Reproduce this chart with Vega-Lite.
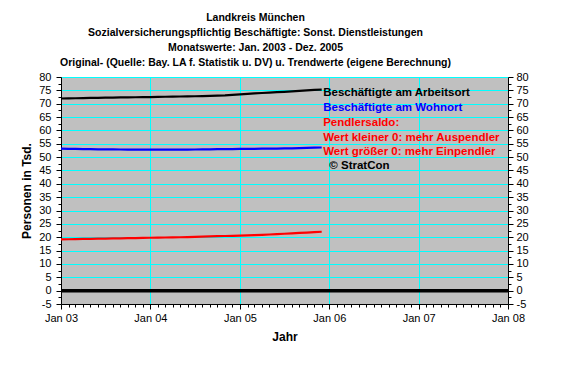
{
  "$schema": "https://vega.github.io/schema/vega-lite/v6.json",
  "width": 447,
  "height": 227,
  "autosize": {"type": "none"},
  "padding": {"left": 61, "top": 77, "right": 53, "bottom": 71},
  "background": "#FFFFFF",
  "title": {
    "text": [
      "Landkreis München",
      "Sozialversicherungspflichtig Beschäftigte: Sonst. Dienstleistungen",
      "Monatswerte: Jan. 2003 - Dez. 2005",
      "Original- (Quelle: Bay. LA f. Statistik u. DV) u. Trendwerte (eigene Berechnung)"
    ],
    "anchor": "middle",
    "frame": "group",
    "dx": -29,
    "font": "Liberation Sans",
    "fontSize": 10.5,
    "fontWeight": "bold",
    "color": "#000000",
    "lineHeight": 15.3,
    "offset": 2
  },
  "config": {
    "view": {"fill": "#C0C0C0", "stroke": null},
    "axis": {
      "labelFont": "Liberation Sans",
      "labelFontSize": 11,
      "labelColor": "#000000",
      "titleFont": "Liberation Sans",
      "titleFontSize": 12,
      "titleFontWeight": "bold",
      "titleColor": "#000000",
      "domainColor": "#000000",
      "domainWidth": 1,
      "tickColor": "#000000",
      "tickWidth": 1,
      "gridColor": "#00FFFF",
      "gridWidth": 1
    },
    "text": {"font": "Liberation Sans"}
  },
  "datasets": {
    "series": [
      {"m": "2003-01", "Arbeitsort": 71.95, "Wohnort": 53.15, "Pendlersaldo": 19.2},
      {"m": "2003-02", "Arbeitsort": 72.0, "Wohnort": 53.1, "Pendlersaldo": 19.25},
      {"m": "2003-03", "Arbeitsort": 72.05, "Wohnort": 53.05, "Pendlersaldo": 19.3},
      {"m": "2003-04", "Arbeitsort": 72.1, "Wohnort": 53.0, "Pendlersaldo": 19.35},
      {"m": "2003-05", "Arbeitsort": 72.15, "Wohnort": 52.97, "Pendlersaldo": 19.4},
      {"m": "2003-06", "Arbeitsort": 72.2, "Wohnort": 52.93, "Pendlersaldo": 19.45},
      {"m": "2003-07", "Arbeitsort": 72.25, "Wohnort": 52.9, "Pendlersaldo": 19.5},
      {"m": "2003-08", "Arbeitsort": 72.3, "Wohnort": 52.87, "Pendlersaldo": 19.55},
      {"m": "2003-09", "Arbeitsort": 72.35, "Wohnort": 52.85, "Pendlersaldo": 19.6},
      {"m": "2003-10", "Arbeitsort": 72.4, "Wohnort": 52.83, "Pendlersaldo": 19.65},
      {"m": "2003-11", "Arbeitsort": 72.42, "Wohnort": 52.82, "Pendlersaldo": 19.7},
      {"m": "2003-12", "Arbeitsort": 72.45, "Wohnort": 52.8, "Pendlersaldo": 19.75},
      {"m": "2004-01", "Arbeitsort": 72.5, "Wohnort": 52.8, "Pendlersaldo": 19.8},
      {"m": "2004-02", "Arbeitsort": 72.55, "Wohnort": 52.8, "Pendlersaldo": 19.85},
      {"m": "2004-03", "Arbeitsort": 72.6, "Wohnort": 52.8, "Pendlersaldo": 19.9},
      {"m": "2004-04", "Arbeitsort": 72.65, "Wohnort": 52.8, "Pendlersaldo": 19.95},
      {"m": "2004-05", "Arbeitsort": 72.7, "Wohnort": 52.8, "Pendlersaldo": 20.0},
      {"m": "2004-06", "Arbeitsort": 72.75, "Wohnort": 52.82, "Pendlersaldo": 20.07},
      {"m": "2004-07", "Arbeitsort": 72.8, "Wohnort": 52.85, "Pendlersaldo": 20.15},
      {"m": "2004-08", "Arbeitsort": 72.85, "Wohnort": 52.88, "Pendlersaldo": 20.22},
      {"m": "2004-09", "Arbeitsort": 72.92, "Wohnort": 52.92, "Pendlersaldo": 20.3},
      {"m": "2004-10", "Arbeitsort": 73.0, "Wohnort": 52.97, "Pendlersaldo": 20.38},
      {"m": "2004-11", "Arbeitsort": 73.1, "Wohnort": 53.0, "Pendlersaldo": 20.46},
      {"m": "2004-12", "Arbeitsort": 73.3, "Wohnort": 53.03, "Pendlersaldo": 20.54},
      {"m": "2005-01", "Arbeitsort": 73.5, "Wohnort": 53.06, "Pendlersaldo": 20.62},
      {"m": "2005-02", "Arbeitsort": 73.68, "Wohnort": 53.09, "Pendlersaldo": 20.7},
      {"m": "2005-03", "Arbeitsort": 73.85, "Wohnort": 53.12, "Pendlersaldo": 20.8},
      {"m": "2005-04", "Arbeitsort": 74.0, "Wohnort": 53.15, "Pendlersaldo": 20.9},
      {"m": "2005-05", "Arbeitsort": 74.15, "Wohnort": 53.18, "Pendlersaldo": 21.02},
      {"m": "2005-06", "Arbeitsort": 74.3, "Wohnort": 53.21, "Pendlersaldo": 21.15},
      {"m": "2005-07", "Arbeitsort": 74.45, "Wohnort": 53.25, "Pendlersaldo": 21.3},
      {"m": "2005-08", "Arbeitsort": 74.65, "Wohnort": 53.3, "Pendlersaldo": 21.45},
      {"m": "2005-09", "Arbeitsort": 74.8, "Wohnort": 53.35, "Pendlersaldo": 21.6},
      {"m": "2005-10", "Arbeitsort": 75.0, "Wohnort": 53.45, "Pendlersaldo": 21.75},
      {"m": "2005-11", "Arbeitsort": 75.15, "Wohnort": 53.55, "Pendlersaldo": 21.9},
      {"m": "2005-12", "Arbeitsort": 75.3, "Wohnort": 53.6, "Pendlersaldo": 22.05}
    ],
    "notes": [
      {"m": "2005-12-07", "v": 74.1, "s": "Arbeitsort", "t": "Beschäftigte am Arbeitsort"},
      {"m": "2005-12-07", "v": 68.4, "s": "Wohnort", "t": "Beschäftigte am Wohnort"},
      {"m": "2005-12-07", "v": 62.9, "s": "Pendlersaldo", "t": "Pendlersaldo:"},
      {"m": "2005-12-07", "v": 57.2, "s": "Pendlersaldo", "t": "Wert kleiner 0: mehr Auspendler"},
      {"m": "2005-12-07", "v": 51.9, "s": "Pendlersaldo", "t": "Wert größer 0: mehr Einpendler"},
      {"m": "2006-01-01", "v": 46.7, "s": "Quelle", "t": "© StratCon"}
    ]
  },
  "layer": [
    {
      "data": {"values": [{}]},
      "mark": {"type": "rule", "color": "#000000", "strokeWidth": 3.5},
      "encoding": {
        "y": {"datum": 0, "type": "quantitative", "axis": null}
      }
    },
    {
      "data": {"name": "series", "format": {"parse": {"m": "date:'%Y-%m'"}}},
      "transform": [{"fold": ["Arbeitsort", "Wohnort", "Pendlersaldo"], "as": ["s", "v"]}],
      "mark": {"type": "line", "strokeWidth": 2.2, "interpolate": "linear"},
      "encoding": {
        "x": {
          "field": "m",
          "type": "temporal",
          "scale": {"domain": [{"year": 2003, "month": 1, "date": 1}, {"year": 2008, "month": 1, "date": 1}]},
          "axis": {
            "title": "Jahr",
            "tickCount": {"interval": "month", "step": 1},
            "labelExpr": "month(datum.value) == 0 ? timeFormat(datum.value, '%b %y') : ''",
            "labelOverlap": false,
            "labelFlush": false,
            "labelAngle": 0,
            "labelPadding": 3,
            "titlePadding": 8,
            "grid": true,
            "gridOpacity": {"condition": {"test": "month(datum.value) == 0", "value": 1}, "value": 0},
            "tickSize": {"condition": {"test": "month(datum.value) == 0", "value": 5}, "value": 3}
          }
        },
        "y": {
          "field": "v",
          "type": "quantitative",
          "scale": {"domain": [-5, 80], "nice": false, "zero": false},
          "axis": {
            "orient": "left",
            "title": "Personen in Tsd.",
            "values": [-5, -2.5, 0, 2.5, 5, 7.5, 10, 12.5, 15, 17.5, 20, 22.5, 25, 27.5, 30, 32.5, 35, 37.5, 40, 42.5, 45, 47.5, 50, 52.5, 55, 57.5, 60, 62.5, 65, 67.5, 70, 72.5, 75, 77.5, 80],
            "labelExpr": "datum.value % 5 == 0 ? replace(datum.label, '\u2212', '-') : ''",
            "labelFlush": false,
            "labelOverlap": false,
            "labelPadding": 5,
            "titlePadding": 5,
            "grid": true,
            "gridOpacity": {"condition": {"test": "datum.value % 5 == 0", "value": 1}, "value": 0},
            "tickSize": {"condition": {"test": "datum.value % 5 == 0", "value": 5}, "value": 3}
          }
        },
        "color": {
          "field": "s",
          "type": "nominal",
          "scale": {"domain": ["Arbeitsort", "Wohnort", "Pendlersaldo", "Quelle"], "range": ["#000000", "#0000FF", "#FF0000", "#000000"]},
          "legend": null
        }
      }
    },
    {
      "data": {"name": "notes", "format": {"parse": {"m": "date:'%Y-%m-%d'"}}},
      "mark": {"type": "text", "align": "left", "baseline": "middle", "fontSize": 11.5, "fontWeight": "bold", "font": "Liberation Sans"},
      "encoding": {
        "x": {"field": "m", "type": "temporal"},
        "y": {
          "field": "v",
          "type": "quantitative",
          "axis": {
            "orient": "right",
            "title": null,
            "values": [-5, -2.5, 0, 2.5, 5, 7.5, 10, 12.5, 15, 17.5, 20, 22.5, 25, 27.5, 30, 32.5, 35, 37.5, 40, 42.5, 45, 47.5, 50, 52.5, 55, 57.5, 60, 62.5, 65, 67.5, 70, 72.5, 75, 77.5, 80],
            "labelExpr": "datum.value % 5 == 0 ? replace(datum.label, '\u2212', '-') : ''",
            "labelFlush": false,
            "labelOverlap": false,
            "labelPadding": 3,
            "grid": false,
            "tickSize": {"condition": {"test": "datum.value % 5 == 0", "value": 5}, "value": 3}
          }
        },
        "text": {"field": "t", "type": "nominal"},
        "color": {
          "field": "s",
          "type": "nominal",
          "scale": {"domain": ["Arbeitsort", "Wohnort", "Pendlersaldo", "Quelle"], "range": ["#000000", "#0000FF", "#FF0000", "#000000"]},
          "legend": null
        }
      }
    }
  ],
  "resolve": {"axis": {"y": "independent"}}
}
